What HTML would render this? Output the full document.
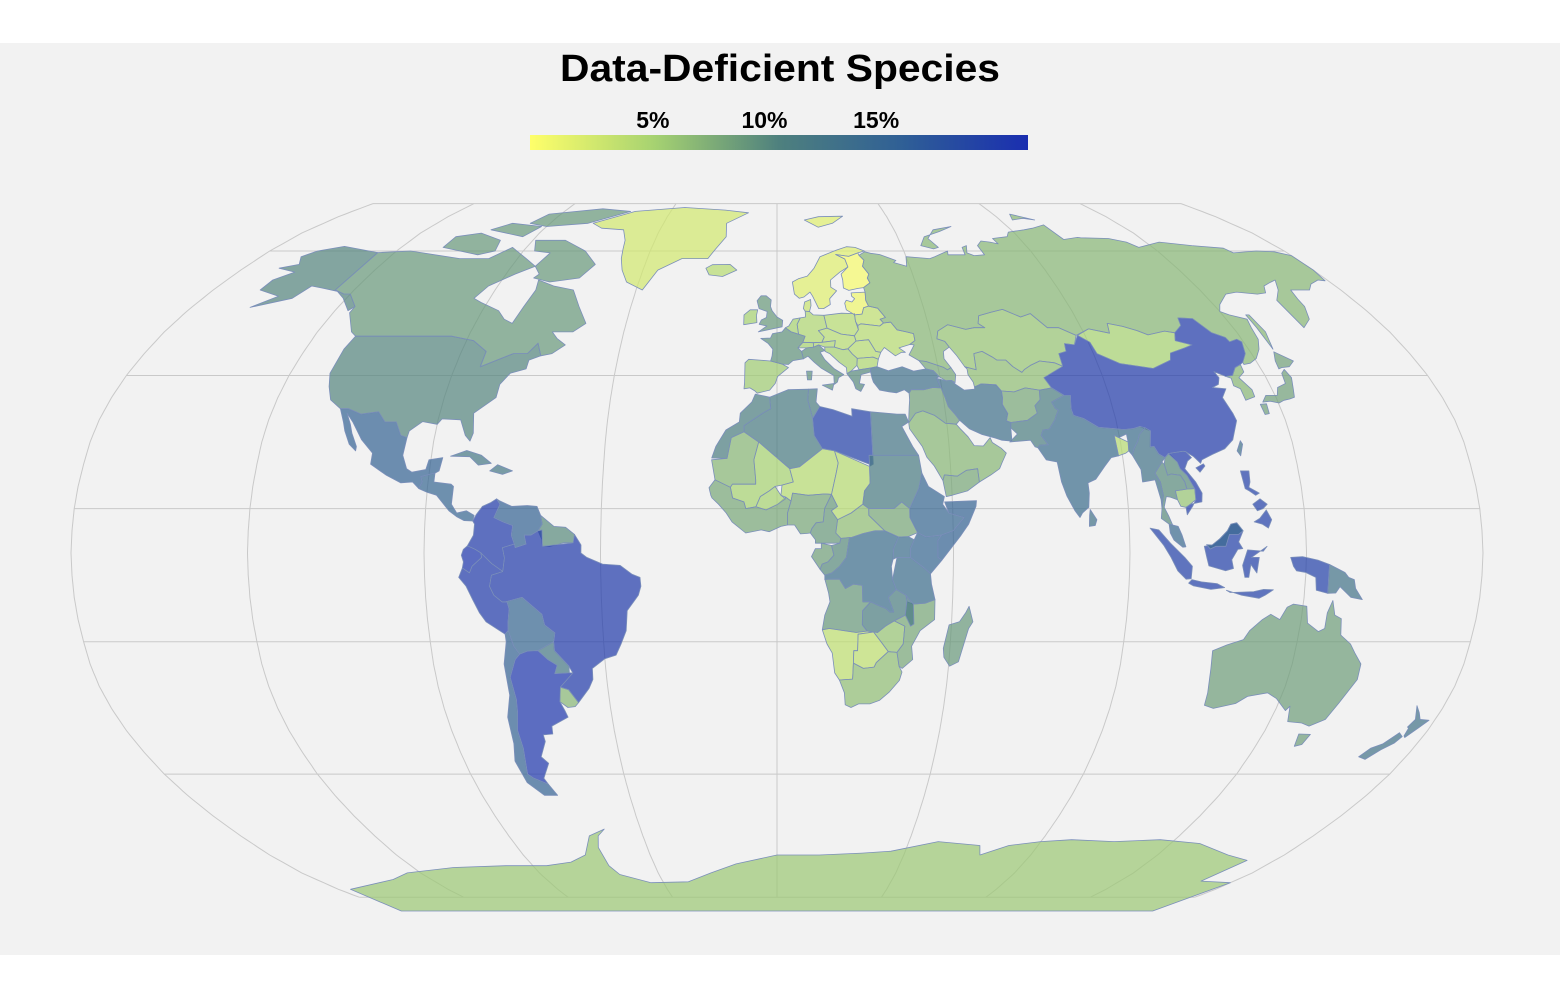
<!DOCTYPE html>
<html><head><meta charset="utf-8"><style>
html,body{margin:0;padding:0;background:#fff;}
svg{display:block;font-family:"Liberation Sans",sans-serif;}
</style></head><body>
<svg id="chart" width="1560" height="1000" viewBox="0 0 1560 1000" xmlns="http://www.w3.org/2000/svg">
<rect x="0" y="0" width="1560" height="1000" fill="#ffffff"/>
<rect x="0" y="43" width="1560" height="912" fill="#f2f2f2"/>
<text x="780" y="81" text-anchor="middle" font-size="38" font-weight="bold" textLength="440" lengthAdjust="spacingAndGlyphs" fill="#000">Data-Deficient Species</text>
<defs>
<linearGradient id="legGrad" x1="0" x2="1" y1="0" y2="0">
<stop offset="0" stop-color="#ffff6a"/><stop offset="0.25" stop-color="#a6d271"/><stop offset="0.5" stop-color="#4e807e"/><stop offset="0.75" stop-color="#2f5f96"/><stop offset="1" stop-color="#1a2eb0"/>
</linearGradient>
</defs>
<rect x="530" y="135" width="498" height="15" fill="url(#legGrad)"/>
<g id="legendTicks"></g>
<g id="graticule"></g>
<g id="countries"></g>
</svg>
<script>
// ---- data ----
const regionNames = ["Canada","Canada Baffin","Canada Arctic 1","Canada Arctic 2","Canada Arctic 3","USA","Alaska","Mexico","Central America","Cuba","Hispaniola","Greenland","Iceland",
"Colombia","Venezuela","Guianas","Ecuador","Peru","Brazil","Bolivia","Paraguay","Uruguay","Argentina","Chile",
"Morocco","Algeria","Tunisia","Libya","Egypt","Mauritania","Mali","Niger","Chad","Sudan","South Sudan","Ethiopia","Somalia","Kenya","Tanzania","Uganda","DR Congo","Congo","Gabon","Cameroon","CAR","Nigeria","West Africa","Burkina Faso","Angola","Zambia","Namibia","Botswana","Zimbabwe","Mozambique","Malawi","South Africa","Madagascar",
"Spain","France","Italy","Sicily","Sardinia","UK","Ireland","Germany","Benelux","Denmark","Poland","Central Europe","Switzerland","Austria","Romania","Balkans","Bulgaria","Greece","Scandinavia","Finland","Baltics","Belarus","Ukraine","Russia","Novaya Zemlya","Severnaya Zemlya","Svalbard","Sakhalin",
"Kazakhstan","Central Asia","Mongolia","China","Hainan","Taiwan","Korea","Japan Honshu","Japan Kyushu","Japan Hokkaido","India","Bangladesh","Sri Lanka","Pakistan","Afghanistan","Iran","Turkey","Caucasus","Iraq Syria","Saudi Arabia","Yemen",
"Myanmar","Thailand","Laos","Vietnam","Cambodia","Malaysia","Sumatra","Java","Borneo Indonesia","Borneo Malaysia","Sulawesi","West Papua","Papua New Guinea","Lesser Sunda","Luzon","Mindanao","Visayas",
"Australia","Tasmania","NZ North","NZ South","Antarctica"];
const regionValues = [9,9,9,9,9,10.3,10.3,15.5,15,12,12,2.3,4,
20.5,15.5,10,21,20.5,20.5,15,12,7,21,15.5,
11,11.5,11,20,12.5,7,5,4,4,11.5,8,15,15.5,15,14,14,14,10,8.5,9,6.5,8,8,5,9,11,3.5,3.5,6,8,12,6.5,9,
5.5,9.5,9.5,9.5,9.5,9,5,4.5,5,3,4,4,5,4.5,4,5,4.5,10,1.5,0,0.5,3.5,4,7,7,7,1.5,7,
6,6.5,5,20.5,20.5,13,7,8.5,8.5,8.5,14,4,13,11,8,13.5,13.5,8,8.5,7,8,
13,10,10,20.5,6,14.5,20,20,20,14.5,20,20,13,20,20,20,20,
8.7,8.7,13,13,5.8];
const tickValues = [5,10,15];
const tickLabels = ["5%","10%","15%"];
const colorDomain = [-0.5,21.8];

const shapes = {
"Canada":[[-141,60],[-141,69.6],[-130,70],[-120,69],[-110,68],[-100,68],[-95,71],[-87,68],[-82,66],[-87,64],[-93,61],[-95,58],[-92,57],[-85,55],[-82,53],[-79,52],[-78,56],[-77,60],[-78,62.5],[-72,61],[-65,60],[-61,56],[-57,52],[-60,50],[-66,50],[-64,48.5],[-61,47],[-64,45],[-67,44.5],[-69,47.4],[-71,45],[-75,45],[-79,43.5],[-83,42],[-83,45.5],[-88,48],[-95,49],[-123,49],[-125,50],[-130,54.5],[-130,56],[-135,59],[-137,59]],
"Canada Baffin":[[-80,63],[-74,62],[-65,63],[-62,66.5],[-68,70],[-78,73],[-89,73],[-86,70],[-80,69.5],[-82,66],[-79,64]],
"Canada Arctic 1":[[-120,71],[-105,69],[-100,70],[-102,73],[-112,75],[-120,74]],
"Canada Arctic 2":[[-90,77],[-75,78],[-62,82],[-75,83],[-95,81],[-98,78]],
"Canada Arctic 3":[[-110,76],[-95,74],[-92,77],[-105,78]],
"USA":[[-123,49],[-95,49],[-88,48],[-83,45.5],[-83,42],[-79,43.5],[-75,45],[-71,45],[-69,47.4],[-67,44.5],[-70,43.5],[-70,41.5],[-74,40.5],[-76,38],[-76,35],[-81,31.5],[-80,27],[-80.5,25.2],[-82,26.5],[-84,30],[-89,30.2],[-90,29],[-94,29.6],[-97,27.5],[-97.2,26],[-99,26.5],[-101,29.5],[-104,29.5],[-106.5,31.8],[-111,31.3],[-114.8,32.5],[-117,32.5],[-120.5,34.5],[-122.5,37.5],[-124,40.5],[-124,46]],
"Alaska":[[-141,60],[-141,69.6],[-156,71.3],[-163,70],[-166,68.5],[-163,66.5],[-168,65.5],[-161,64.5],[-165,62.5],[-165,60],[-157,58.5],[-162,55.8],[-152,58],[-150,61],[-146,60.5],[-140,59.7],[-136,58],[-131,55],[-130,56],[-135,59],[-137,59]],
"Mexico":[[-117,32.5],[-114.8,32.5],[-111,31.3],[-106.5,31.8],[-104,29.5],[-101,29.5],[-99,26.5],[-97.2,26],[-97.5,22],[-96,19],[-94.5,18.2],[-91,18.8],[-90.5,21],[-87,21.5],[-87.5,18.5],[-88.5,18],[-92,17.2],[-91.5,16],[-92.2,14.5],[-94,16],[-97,15.8],[-101,17.5],[-105.5,20],[-105.5,22.5],[-109,25.5],[-112.5,29.5],[-114.8,31.5],[-113,29],[-112,27],[-110,24],[-110,23],[-112,24.5],[-114,27.5],[-115,29.5]],
"Central America":[[-92.2,14.5],[-91.5,16],[-92,17.2],[-88.5,18],[-88.5,16],[-84,15.5],[-83.3,15],[-83.5,11],[-82,9],[-79.5,9.5],[-77.5,8.5],[-77.8,7.2],[-80,7.3],[-82,8.2],[-84,9.5],[-86,11.5],[-87.5,13],[-90,13.7]],
"Cuba":[[-85,21.8],[-81,23.1],[-77,22],[-74.2,20.2],[-77.5,19.8],[-80,21.7]],
"Hispaniola":[[-74.4,18.5],[-72.5,19.9],[-68.5,18.5],[-71,17.7]],
"Greenland":[[-73,78],[-60,82],[-40,83.5],[-22,82.5],[-12,81.5],[-20,78],[-19,74],[-22,70.5],[-24,68],[-33,68],[-40,65],[-43,60],[-49,62],[-52,65],[-54,68],[-55,70.5],[-56,73],[-59,76],[-68,76.5]],
"Iceland":[[-24,65.5],[-22,66.4],[-16,66.5],[-13.5,65],[-18,63.4],[-22.5,63.8]],
"Colombia":[[-77.8,7.2],[-77,8.6],[-75.5,10.5],[-73.5,11.3],[-72,12.2],[-71,11],[-72.4,8],[-70,7],[-67.5,6.2],[-67.8,4],[-67,2],[-70,1.2],[-69.5,-1.1],[-70,-4.2],[-72.8,-2.4],[-75.5,0],[-77,0.8],[-79,1.6],[-77.5,4],[-77.3,6.5]],
"Venezuela":[[-72,12.2],[-71.3,11.8],[-68,10.5],[-64,10.7],[-61.5,10.5],[-60.5,8.5],[-60,6.5],[-61,5],[-62.8,4],[-64.5,4],[-64,2],[-66.8,1.2],[-67,2],[-67.8,4],[-67.5,6.2],[-70,7],[-72.4,8],[-71,11]],
"Guianas":[[-60.5,8.5],[-57,6],[-54,5.8],[-51.7,4.2],[-52,2.3],[-54.5,2.3],[-56,1.9],[-58,1.5],[-59.8,1.5],[-60,3],[-61,5],[-60,6.5]],
"Ecuador":[[-79,1.6],[-77,0.8],[-75.5,0],[-75.3,-1],[-77.8,-3],[-78.5,-4.5],[-80.3,-3.4],[-80,-2],[-80.5,-0.5],[-80,0.8]],
"Peru":[[-80.3,-3.4],[-78.5,-4.5],[-77.8,-3],[-75.3,-1],[-75.5,0],[-72.8,-2.4],[-70,-4.2],[-72.9,-5],[-73.5,-7.5],[-72.5,-9.5],[-70.5,-11],[-69.2,-11],[-68.8,-12.6],[-69.3,-15.5],[-69.5,-17.5],[-70.4,-18.3],[-75,-15.5],[-76.5,-13.5],[-78,-10.5],[-79.5,-7.5],[-81.3,-5.5]],
"Brazil":[[-60,5.2],[-59.8,1.5],[-56,1.9],[-52,2.3],[-51.7,4.2],[-50,1.8],[-50,0],[-48.5,-1],[-44.5,-2.5],[-40,-2.8],[-37,-4.8],[-35,-5.5],[-34.8,-7.5],[-35.5,-9.5],[-38.5,-13],[-39,-17.5],[-40.5,-20.5],[-42,-23],[-45,-23.8],[-48.5,-26],[-48.7,-28.5],[-50,-30.5],[-53.4,-33.7],[-55.5,-30.8],[-57.6,-30.2],[-53.8,-27],[-54.6,-25.5],[-58,-22],[-58,-20],[-57.5,-18],[-60,-16.2],[-60.5,-13.8],[-65.3,-10],[-69.5,-11],[-70.5,-11],[-72.5,-9.5],[-73.5,-7.5],[-72.9,-5],[-70,-4.2],[-69.5,-1.1],[-70,1.2],[-67,2],[-66.8,1.2],[-64,2],[-64.5,4],[-62.8,4],[-61,5]],
"Bolivia":[[-69.5,-11],[-65.3,-10],[-60.5,-13.8],[-60,-16.2],[-57.5,-18],[-58,-20],[-62.3,-22],[-65,-22.1],[-67.2,-22.8],[-68.5,-21],[-69.5,-17.5],[-69.3,-15.5],[-68.8,-12.6],[-69.2,-11]],
"Paraguay":[[-58,-20],[-58,-22],[-54.6,-25.5],[-54.7,-27],[-58.6,-27.2],[-57.7,-25.3],[-60,-24],[-62.3,-22]],
"Uruguay":[[-53.4,-33.7],[-55.5,-30.8],[-57.6,-30.2],[-58.4,-33.5],[-56.5,-34.8],[-54.5,-34.6]],
"Argentina":[[-65,-22.1],[-62.3,-22],[-60,-24],[-57.7,-25.3],[-58.6,-27.2],[-54.7,-27],[-53.8,-27],[-57.6,-30.2],[-58.4,-33.5],[-57.5,-35.5],[-57,-37],[-62,-39],[-62.3,-40.8],[-65,-41],[-65,-42.5],[-67.5,-46],[-66,-47.5],[-69,-51],[-68.4,-52.4],[-72,-51],[-73.3,-50],[-71.8,-44],[-71.8,-40],[-70.5,-36],[-70,-33],[-70.5,-28],[-68.5,-24],[-67.2,-22.8]],
"Chile":[[-70.4,-18.3],[-69.5,-17.5],[-68.5,-21],[-67.2,-22.8],[-68.5,-24],[-70.5,-28],[-70,-33],[-70.5,-36],[-71.8,-40],[-71.8,-44],[-73.3,-50],[-72,-51],[-68.4,-52.4],[-67,-55],[-71,-55],[-74.5,-52],[-75.5,-47],[-74,-43],[-73.5,-37],[-71.5,-32],[-71.5,-25],[-70.3,-20]],
"Morocco":[[-5.9,35.8],[-2,35.1],[-1.7,32.5],[-3.6,31.6],[-8.7,28.7],[-8.7,27.3],[-12,26],[-13,21.3],[-17,21.4],[-16,24],[-13.5,27.7],[-10,29.5],[-9.8,31.5],[-6.8,34]],
"Algeria":[[-2,35.1],[3,36.8],[8.6,36.9],[8.3,34.5],[9.5,30.3],[9.8,26.5],[11.9,23.5],[5.8,19.4],[3.3,19],[-4.8,25],[-8.7,27.3],[-8.7,28.7],[-3.6,31.6],[-1.7,32.5]],
"Tunisia":[[8.6,36.9],[11,37],[10.5,34],[11.5,33],[9.5,30.3],[8.3,34.5]],
"Libya":[[11.5,33],[15,32.3],[20,30.8],[20,32.5],[25,31.8],[25,20],[24,19.5],[24,20],[15,23],[11.9,23.5],[9.8,26.5],[9.5,30.3]],
"Egypt":[[25,31.8],[32,31.3],[34.2,31.3],[34.9,29.5],[33,28.5],[35.5,24],[36.9,22],[25,22]],
"Mauritania":[[-17,21],[-16,16.5],[-12,14.8],[-11.5,15.5],[-5.5,15.5],[-5.5,16.5],[-6,21],[-4.8,25],[-8.7,27.3],[-12,26],[-13,21.3]],
"Mali":[[-12,14.8],[-11.5,15.5],[-5.5,15.5],[-5.5,16.5],[-6,21],[-4.8,25],[3.3,19],[4.2,16],[1.3,15.3],[-0.5,15],[-2,14],[-4.3,12.7],[-5.4,10.4],[-8,10],[-8.5,11.5],[-11.4,12.4]],
"Niger":[[3.3,19],[5.8,19.4],[11.9,23.5],[15,23],[15.9,20.3],[15.3,17.9],[14,13.2],[13,13.3],[12,13.3],[8,13],[4,13.5],[3.6,11.7],[2.2,12.6],[1,13],[1.3,15.3],[4.2,16]],
"Chad":[[15,23],[24,19.5],[24,15.7],[22.5,14],[22,11],[19,9],[15.5,7.5],[13.9,9.5],[15.5,10.5],[14,13.2],[15.3,17.9],[15.9,20.3]],
"Sudan":[[24,20],[24,22],[36.9,22],[37.5,18],[36.5,14.5],[34,10],[32,11.5],[30,10],[26,10],[23.5,10],[22,11],[22.5,14],[24,15.7]],
"South Sudan":[[23.5,10],[26,10],[30,10],[32,11.5],[34,10],[34,8],[35.9,4.6],[33.5,3.7],[31,3.6],[27.5,5],[23.5,8.5]],
"Ethiopia":[[36.5,14.5],[37.5,18],[39,15],[43,12.7],[42.5,11],[44,9],[47.9,8],[45,5],[41.9,4],[38,3.6],[35.9,4.6],[34,8],[34,10]],
"Somalia":[[43,11.5],[51.2,11.8],[51,10.5],[49,6.5],[47,4],[42,-1.7],[41,-1],[41,2.8],[41.9,4],[45,5],[47.9,8],[44,9]],
"Kenya":[[41.9,4],[41,2.8],[41,-1],[42,-1.7],[39.2,-4.7],[37.7,-3.5],[34,-1],[34,1],[35,3],[35.9,4.6],[38,3.6]],
"Tanzania":[[34,-1],[37.7,-3.5],[39.2,-4.7],[39.5,-7],[40.5,-10.5],[38,-11.3],[35,-11.5],[33,-9.5],[30.5,-8.2],[29.5,-6],[30.6,-1]],
"Uganda":[[30.6,-1],[34,-1],[34,1],[35,3],[33.5,3.7],[31,3.6],[29.7,1],[29.6,-1.4]],
"DR Congo":[[12.2,-6],[13,-5.9],[16,-5.9],[17.5,-8],[19.5,-7],[21.8,-7.3],[22,-11],[24,-11],[26,-11.8],[28,-12.5],[29,-13.3],[30,-13.3],[28.5,-10],[30.5,-8.2],[29.5,-6],[29.2,-3],[29.6,-1.4],[29.7,1],[31,3.6],[27.5,5],[25,5],[22,4.4],[19,3.5],[18.5,3.5],[17.7,-1],[16,-3],[14,-4.5],[12.2,-5]],
"Congo":[[11,-3.7],[12.2,-5],[14,-4.5],[16,-3],[17.7,-1],[18.5,3.5],[16.3,3.3],[16,2.2],[13.9,1.7],[14.5,-0.5],[13,-2],[11.5,-2.5]],
"Gabon":[[8.8,-0.8],[9.8,1],[11.3,1],[11.3,2.2],[13.9,1.7],[14.5,-0.5],[13,-2],[11.5,-2.5],[11,-3.7]],
"Cameroon":[[8.5,4.5],[9.8,3],[9.8,2.2],[11.3,2.2],[16,2.2],[16.3,3.3],[15,4.5],[15.5,7.5],[13.9,9.5],[15.5,10.5],[14,13.2],[12.2,10],[11.8,7],[10,6.8],[8.9,5.5]],
"CAR":[[15.5,7.5],[19,9],[22,11],[23.5,10],[23.5,8.5],[27.5,5],[25,5],[22,4.4],[19,3.5],[18.5,3.5],[16.3,3.3],[15,4.5]],
"Nigeria":[[2.7,6.3],[4.5,6.3],[6,4.3],[7.5,4.4],[8.5,4.5],[8.9,5.5],[10,6.8],[11.8,7],[12.2,10],[14,13.2],[12,13.3],[8,13],[4,13.5],[3.6,11.7],[2.7,9]],
"West Africa":[[-17.5,14.7],[-17,13],[-16.7,12.4],[-15,11],[-13,9],[-11.5,7],[-8,4.5],[-4,5.2],[-2,4.8],[1,6],[2.7,6.3],[2.7,9],[3.6,11.7],[2.2,12.6],[0.2,11],[-2.8,9.7],[-5.4,10.4],[-8,10],[-8.5,11.5],[-11.4,12.4],[-12,14.8],[-16,16.5]],
"Burkina Faso":[[-5.4,10.4],[-2.8,9.7],[0.2,11],[2.2,12.2],[1,13],[-0.5,15],[-2,14],[-4.3,12.7]],
"Angola":[[12.2,-6],[13,-5.9],[16,-5.9],[17.5,-8],[19.5,-7],[21.8,-7.3],[22,-11],[24,-11],[22,-13],[22,-16.2],[23.3,-17.6],[20.5,-17.9],[13.5,-17],[11.7,-17.3],[12.3,-14],[13.6,-11],[13.2,-9],[12.3,-6.1]],
"Zambia":[[22,-13],[24,-11],[26,-11.8],[28,-12.5],[29,-13.3],[30,-13.3],[28.5,-10],[30.5,-8.2],[33,-9.5],[33.3,-11],[33,-14],[30.2,-15.3],[28,-16.5],[26,-17.9],[23.3,-17.6],[22,-16.2]],
"Namibia":[[11.7,-17.3],[13.5,-17],[20.5,-17.9],[23.3,-17.6],[25,-17.8],[21,-18.3],[21,-22],[20,-22],[20,-24.8],[20,-28.4],[16.5,-28.6],[15.2,-27],[14.4,-22.5],[13,-20.5]],
"Botswana":[[21,-18.3],[25,-17.8],[27,-20],[29,-22.2],[26,-24.7],[25.5,-25.7],[22.7,-26],[20,-24.8],[20,-22],[21,-22]],
"Zimbabwe":[[25,-17.8],[26,-17.9],[28,-16.5],[30.2,-15.3],[33,-16.5],[32.8,-20.5],[31.3,-22.4],[29,-22.2],[27,-20]],
"Mozambique":[[33,-14],[33.3,-11],[35,-11.5],[38,-11.3],[40.5,-10.5],[40.6,-15],[37,-17.5],[35,-21],[35.5,-24],[32.9,-26],[32,-25.5],[31.3,-22.4],[32.8,-20.5],[33,-16.5],[30.2,-15.3]],
"Malawi":[[33.3,-11],[33,-9.5],[35,-11.5],[35.3,-16],[34.5,-16.5],[33,-14]],
"South Africa":[[16.5,-28.6],[20,-28.4],[20,-24.8],[22.7,-26],[25.5,-25.7],[26,-24.7],[29,-22.2],[31.3,-22.4],[32,-25.5],[32.9,-26.8],[32.4,-28.7],[30,-31.3],[27.5,-33.2],[25,-34],[22,-34],[20,-34.8],[18.4,-34.2],[18,-31.5]],
"Madagascar":[[49.3,-12],[50.5,-15.5],[49.5,-17],[47.5,-24.5],[45.3,-25.5],[43.6,-23.5],[43.3,-21.5],[44.4,-16.2],[47,-15.5],[48.5,-13.5]],
"Spain":[[-9,42.9],[-8.9,38.5],[-9,37],[-7.4,37.2],[-6,36.5],[-5.4,36],[-2,36.7],[-0.5,38.2],[0.2,39.8],[3.2,41.8],[1.5,42.6],[-1.8,43.3],[-8,43.7]],
"France":[[-1.8,43.3],[1.5,42.6],[3.2,42.5],[4.5,43.4],[7.5,43.8],[7,45.5],[6,46.3],[7.5,47.6],[8.2,49],[6.3,49.5],[4.2,50],[2.5,51],[1.5,50],[-1.3,49.6],[-1.9,48.6],[-4.7,48.5],[-2.5,47.3],[-1.2,46],[-1.4,44.5]],
"Italy":[[7,45.5],[7.5,43.8],[8.8,44.4],[10.5,43],[12.3,41.7],[15.7,40],[15.7,38],[16.6,38.5],[17,39.5],[18.5,40.2],[16,41.5],[13.5,43.6],[12.3,45.3],[13.7,45.7],[12,47],[10.5,46.5],[8.5,46.3]],
"Sicily":[[12.4,37.8],[15.6,38.2],[15.1,36.7]],
"Sardinia":[[8.2,41],[9.8,41],[9.5,39],[8.4,39]],
"UK":[[-5.5,50],[1.5,51.2],[1.7,52.7],[0,53.5],[-1.5,55],[-2,56],[-1.8,57.6],[-3.4,58.6],[-5,58.6],[-6.2,57.4],[-5.5,55.5],[-3,54.8],[-3.2,53.4],[-4.7,52.8],[-5.3,51.8],[-3,51.4]],
"Ireland":[[-6,52.2],[-6.2,53.9],[-5.9,55.2],[-8.2,55.2],[-10,54],[-9.9,51.7]],
"Germany":[[6.3,49.5],[8.2,49],[7.5,47.6],[10.5,47.5],[13,47.6],[13.8,48.8],[12.2,50.3],[14.8,50.9],[14.2,53.9],[11,54],[9.9,54.8],[8.6,54.9],[8.6,53.5],[7,53.3],[6,51.8]],
"Benelux":[[2.5,51],[4.2,50],[6.3,49.5],[6,51.8],[7,53.3],[4.8,53],[3.5,51.4]],
"Denmark":[[8.1,55.5],[8.6,57.1],[10.5,57.7],[10.5,56.2],[9.9,54.8],[8.6,54.9]],
"Poland":[[14.2,53.9],[14.8,50.9],[18.8,49.5],[22.6,49.1],[24,50.5],[23.5,52.5],[23.5,54.3],[19.6,54.4]],
"Central Europe":[[13,47.6],[16.9,48],[16.5,46.5],[18.9,45.9],[20.3,46.1],[22.9,47.9],[22.6,49.1],[18.8,49.5],[14.8,50.9],[12.2,50.3],[13.8,48.8]],
"Switzerland":[[6,46.3],[8.5,46.3],[10.5,46.5],[10.5,47.5],[7.5,47.6]],
"Austria":[[10.5,46.5],[12,47],[13.7,46.5],[16.5,46.5],[16.9,48],[13,47.6],[10.5,47.5]],
"Romania":[[22.9,47.9],[26.6,48.2],[28.2,45.5],[29.6,45.3],[28.6,43.7],[27.2,44.2],[22.7,43.9],[21.4,44.9],[20.3,46.1]],
"Balkans":[[13.7,45.5],[13.7,46.5],[16.5,46.5],[18.9,45.9],[20.3,46.1],[21.4,44.9],[22.7,43.9],[22.4,42.3],[20.6,41],[19.4,40.4],[19.4,41.8],[17.5,43],[15,45]],
"Bulgaria":[[22.7,43.9],[27.2,44.2],[28.6,43.7],[28,42],[26.1,41.7],[22.9,41.3],[22.4,42.3]],
"Greece":[[20.6,41],[22.9,41.3],[26.1,41.7],[26,40.8],[23.3,40.2],[22.6,38.2],[24,38],[22.8,36.4],[21.5,37],[21,38.5],[19.4,40.4]],
"Scandinavia":[[5,62],[5.5,59],[7,58],[8.5,58.3],[10.5,59.5],[11.2,58.5],[12.8,55.5],[14.3,55.5],[16.5,56.5],[16.5,57.9],[19,59.8],[17.3,60.7],[17.5,62.5],[21,64.5],[24,65.8],[23.5,67.9],[20.6,69.1],[25,68.6],[28.5,69.5],[31,70],[28,71],[25,71.2],[21,70.2],[15,68.5],[12.5,65.5],[10,63.5],[7,62.8]],
"Finland":[[21.3,60.5],[22.9,59.9],[26,60.4],[27.8,60.6],[30.2,61.8],[29.7,63],[30.5,64],[29,66],[30,67.6],[28.7,68.9],[28.5,69.5],[25,68.6],[20.6,69.1],[23.5,67.9],[24,65.8],[21.3,64],[21.5,62.5]],
"Baltics":[[21,56.8],[21.6,57.5],[23.3,57.1],[24.3,57.9],[23.5,58.5],[23.5,59.3],[28,59.5],[27.7,57.5],[28.2,56.1],[26.6,55.7],[25.8,54.2],[23.5,54],[22.8,54.4],[21.2,55.2]],
"Belarus":[[23.5,54.3],[23.5,52.5],[24,51.5],[25,51.9],[30.5,51.4],[31.8,52.1],[31,53],[32.7,53.4],[30.9,55.6],[28.2,56.1],[26.6,55.7],[25.8,54.2],[23.5,54]],
"Ukraine":[[22.6,49.1],[22.9,47.9],[26.6,48.2],[28.2,45.5],[29.6,45.3],[30.8,46.4],[33.6,44.5],[35.5,45.3],[36.6,45.3],[35,46.3],[38.3,47.1],[40,48],[40,49.6],[38,50],[35.4,50.5],[34,52.3],[31.8,52.1],[30.5,51.4],[25,51.9],[24,51.5],[24,50.5]],
"Russia":[[28,59.5],[27.7,57.5],[28.2,56.1],[30.9,55.6],[32.7,53.4],[31,53],[31.8,52.1],[34,52.3],[35.4,50.5],[38,50],[40,49.6],[40,48],[38.3,47.1],[39.5,47],[37.5,44.7],[40,43.4],[42,43.2],[46.5,41.9],[47.5,41.3],[48.6,41.8],[47.2,43.8],[47.5,45.5],[49.5,46.5],[48.6,47.8],[46.5,48.4],[47.3,50.2],[50.8,51.7],[55.7,50.6],[58.3,51],[61.5,51],[60,52],[61,53.8],[65,54.6],[69,55.3],[73.5,53.5],[76.9,54.3],[80,51],[83.4,51],[87.4,49.2],[92,50.7],[97.5,49.7],[98.5,52],[102.5,51.3],[106,50.3],[108.5,49.3],[114,50.2],[116.7,49.8],[120,51.5],[120.8,53.3],[125,53.1],[127.5,49.8],[130.6,48.7],[131,47.7],[133.6,48.3],[134.5,47.7],[133.2,45],[131,43],[131,42.5],[133,42.8],[135.5,43.9],[138,46],[139.8,48.3],[140.4,51],[141.3,53],[137,54],[135,54.8],[137,56.5],[142,59],[146,59.5],[152,59],[155,59.3],[157,61],[160,61.8],[163,62.5],[160,60],[156,57.5],[156,51],[160,53],[162.5,56],[163,57.8],[164,60],[170,60],[173,61.5],[177,62.5],[179,62.3],[180,65],[180,68.8],[176,69.8],[170,70],[161,69.5],[160,70.8],[150,71.5],[140,72.5],[130,71],[128,72.5],[123,73.5],[113,73.7],[112,73.8],[106,73.2],[105,77.5],[99,76.5],[95,76],[88,75.3],[86,74],[80,73.5],[80.5,72],[78,72.5],[75,72.8],[72.5,71.5],[72.8,69],[69,68.8],[67,69.5],[68.5,71.5],[66.5,71],[66,69],[60,69],[60.5,70],[55,68.5],[53,68],[45,68.5],[44,66],[40,67],[41,67.5],[36,69.1],[33,69.4],[31,69.8],[28.7,68.9],[30,67.6],[29,66],[30.5,64],[29.7,63],[30.2,61.8],[27.8,60.6]],
"Novaya Zemlya":[[52,71.5],[56,70.6],[58,71],[56,73.5],[60,76],[68,77],[62,75.5],[55,74]],
"Severnaya Zemlya":[[95,79],[100,79.5],[104,79],[97,81]],
"Svalbard":[[11,79],[17,80],[27,80.2],[22,78],[16,76.8]],
"Sakhalin":[[142,46],[143.5,50],[143,54],[142,54],[142,51]],
"Kazakhstan":[[46.5,48.4],[48.6,47.8],[49.5,46.5],[51,44.5],[52.5,42],[55.5,41.3],[56,45],[58.5,45.5],[61,44.2],[62,43.5],[64.5,43.5],[66,42],[68,40.7],[69,41.4],[71,42.3],[74,43.3],[78,42.9],[80,42.1],[80.2,45],[82.5,45.5],[83,47.3],[85.7,47],[87.4,49.2],[83.4,51],[80,51],[76.9,54.3],[73.5,53.5],[69,55.3],[65,54.6],[61,53.8],[60,52],[61.5,51],[58.3,51],[55.7,50.6],[50.8,51.7],[47.3,50.2]],
"Central Asia":[[52.5,42],[55.5,41.3],[56,45],[58.5,45.5],[61,44.2],[62,43.5],[64.5,43.5],[66,42],[68,40.7],[69,41.4],[71,42.3],[74,43.3],[78,42.9],[80,42.1],[73.7,39.5],[75,37.2],[71.5,36.7],[67.8,37.2],[64.5,36.3],[61.1,36.5],[60,37.9],[56,38.1],[54,37.4],[53.9,38.5],[52.9,40.2],[53,41.5]],
"Mongolia":[[87.8,49.2],[92,50.7],[97.5,49.7],[98.5,52],[102.5,51.3],[106,50.3],[108.5,49.3],[114,50.2],[116.7,49.8],[115.5,48],[119.6,47],[117,46.3],[112,45.1],[111,43.5],[105,41.6],[96.4,42.7],[91,45],[90.5,47.6]],
"China":[[73.7,39.5],[80,42.1],[80.2,45],[82.5,45.5],[83,47.3],[85.7,47],[87.8,49.2],[90.5,47.6],[91,45],[96.4,42.7],[105,41.6],[111,43.5],[112,45.1],[117,46.3],[119.6,47],[115.5,48],[116.7,49.8],[120,51.5],[120.8,53.3],[125,53.1],[127.5,49.8],[130.6,48.7],[131,47.7],[133.6,48.3],[134.5,47.7],[133.2,45],[131,43],[130,42.5],[128,41.8],[126,40],[124,39.8],[121.5,40.9],[122,39.5],[121,38],[119,37.3],[122.5,37],[120.5,35],[121.7,31.5],[122,29.8],[119.6,25.5],[117,23.5],[113.5,22.2],[110.5,21],[110,20.2],[108.5,21.7],[106.7,22.8],[106,22.9],[102,22.4],[101,21.5],[99.5,22.3],[98.6,24],[97.6,23.9],[98.5,27.5],[96,28.5],[94,28],[91.6,27.8],[89,28],[85,28.3],[81.5,30.3],[79,31],[78.8,32.5],[79.5,35.5],[77.8,35.5],[75,37.2]],
"Hainan":[[108.6,19.2],[110.7,20.1],[111,19.6],[109.5,18.2]],
"Taiwan":[[120.1,23],[121.5,25.3],[121.9,24.5],[120.8,21.9]],
"Korea":[[124,39.8],[126,40],[128,41.8],[130,42.5],[129.7,40.8],[127.5,39.5],[129.5,36.8],[129.3,35.2],[126.5,34.4],[126.5,37],[125,37.7],[125.3,39.4]],
"Japan Honshu":[[130.9,34],[132.5,35.5],[135.6,35.5],[136.8,37.3],[139.5,38.2],[140,40.5],[141.4,41.4],[142,39.5],[140.8,36.8],[140,35.1],[138.5,34.7],[136.8,34.4],[135.2,33.8],[133,34.2]],
"Japan Kyushu":[[130,33.5],[131.7,33.6],[131.4,31.4],[130.2,31.2]],
"Japan Hokkaido":[[140,41.5],[140.4,43.3],[141.7,45.4],[145.5,43.3],[143.3,42],[141,41.8]],
"India":[[68.2,23.7],[70,21],[72.8,20.5],[73.4,16],[74.5,12.8],[76.3,9.5],[77.5,8],[78.2,9],[79.9,10.3],[80.3,13.5],[80.2,15.8],[82.3,16.6],[85,19.5],[87,21.5],[89,21.9],[88.7,26.5],[89.8,26],[92,26.8],[92,25],[91.8,23],[92.6,22],[93.3,23.5],[94.6,25.2],[95.4,26.7],[97.3,28.2],[96,28.5],[94,28],[91.6,27.8],[89,28],[85,28.3],[81.5,30.3],[79,31],[78.8,32.5],[79.5,35.5],[77.8,35.5],[75.5,34.6],[74,34],[74.6,32.6],[75.3,32.2],[74.5,31.1],[73.8,30],[71.9,27.9],[70.2,27.7],[69.5,26.5],[71,24.4],[68.8,24.3]],
"Bangladesh":[[88.7,26.5],[89,21.9],[91,22.5],[91.8,23],[92,25],[89.8,26]],
"Sri Lanka":[[79.8,6],[80,8.5],[80.2,9.8],[81.8,7.5],[81.3,6.2]],
"Pakistan":[[61,25],[66.5,25.4],[67.5,23.9],[68.2,23.7],[68.8,24.3],[71,24.4],[69.5,26.5],[70.2,27.7],[71.9,27.9],[73.8,30],[74.5,31.1],[75.3,32.2],[74.6,32.6],[74,34],[75.5,34.6],[77.8,35.5],[75,37.2],[71.5,36.7],[71,34.5],[69.3,33.2],[69.5,31.5],[66.5,29.9],[62,29.4],[61.8,28.2],[63.3,26.8]],
"Afghanistan":[[61.1,36.5],[64.5,36.3],[67.8,37.2],[71.5,36.7],[71,34.5],[69.3,33.2],[69.5,31.5],[66.5,29.9],[62,29.4],[60.9,29.8],[61.6,31.4],[60.6,33.5],[61,35]],
"Iran":[[44,39.4],[44.8,37.2],[45.5,35],[46,33],[47.7,31],[48.5,29.9],[50.8,28],[54,26.7],[57.3,25.9],[59,25.4],[61.6,25.2],[61.8,28.2],[62,29.4],[60.9,29.8],[61.6,31.4],[60.6,33.5],[61,35],[61.1,36.5],[60,37.9],[56,38.1],[54,37.4],[53.9,36.9],[51,36.7],[49,38],[48,38.9],[46.5,38.8]],
"Turkey":[[26,40.8],[26.1,41.7],[28,42],[31,41.1],[35,42],[38,41],[41.5,41.5],[43.5,41.1],[44.8,39.7],[44,39.4],[44.8,37.2],[42.5,37.3],[40,36.8],[36.6,36.8],[35.9,36],[34.7,36.8],[32.5,36.1],[30.5,36.3],[28,36.7],[26.5,38.5],[26.2,39.5]],
"Caucasus":[[40,43.4],[42,43.2],[46.5,41.9],[47.5,41.3],[48.6,41.8],[49.5,40.2],[48.9,38.4],[48,38.9],[46.5,38.8],[44.8,39.7],[43.5,41.1],[41.5,41.5]],
"Iraq Syria":[[35.9,36],[36.6,36.8],[40,36.8],[42.5,37.3],[44.8,37.2],[45.5,35],[46,33],[47.7,31],[48.5,29.9],[47.5,29],[46.5,29.1],[44.7,29.2],[42,31],[39,32],[37,31.5],[35,29.4],[34.9,29.5],[35.5,33],[35.8,34.5]],
"Saudi Arabia":[[34.9,29.5],[35,29.4],[37,31.5],[39,32],[42,31],[44.7,29.2],[46.5,29.1],[47.5,29],[48.4,28],[50.2,26.2],[51.6,24.2],[54,24.1],[56,26],[56.4,24.9],[58.6,23.6],[59.8,22.5],[58.5,20.4],[57.7,19],[55.3,17.6],[52.2,16],[52,19],[49,18.6],[46.6,17.3],[43.3,17.6],[42.8,16.3],[40.8,19.6],[39,21.6],[38,24],[36.5,26],[35,28]],
"Yemen":[[42.8,16.3],[43.3,17.6],[46.6,17.3],[49,18.6],[52,19],[52.2,16],[49,14],[45,13],[43.5,12.7]],
"Myanmar":[[92.6,22],[94.3,18.8],[94.3,16],[97.6,16.5],[98.6,12],[98.6,10],[99.3,13],[98.9,16],[97.8,18],[100,20.5],[101,21.5],[99.5,22.3],[98.6,24],[97.6,23.9],[98.5,27.5],[97.3,28.2],[95.4,26.7],[94.6,25.2],[93.3,23.5]],
"Thailand":[[97.8,18],[98.9,16],[99.3,13],[98.6,10],[98.3,7.8],[100.2,6.5],[101.1,6.3],[100.2,8.4],[99.2,10.3],[100,12.7],[101,12.6],[102.8,12],[102.5,14],[105.5,14.4],[105.2,16],[104.3,17.5],[102,17.8],[101,17.5],[100.5,20],[100,20.5]],
"Laos":[[100.5,20],[101,17.5],[102,17.8],[104.3,17.5],[105.2,16],[105.5,14.4],[107.5,14.5],[106,17.5],[104.5,19],[104,20.5],[102.2,22.4],[101,21.5]],
"Vietnam":[[102,22.4],[104,20.5],[104.5,19],[106,17.5],[107.5,14.5],[107.5,12],[106.5,10.5],[105,8.6],[104.8,10.3],[106,11],[109,11.5],[109.3,13.5],[108,16],[105.7,19],[106.7,20.7],[107.9,21.5],[106.7,22.8],[106,22.9]],
"Cambodia":[[102.5,14],[102.8,12],[103.5,10.5],[104.8,10.3],[106,11],[107.5,12],[107.5,14.5],[105.5,14.4]],
"Malaysia":[[100.2,6.5],[101.1,6.3],[102.5,6],[103.4,4],[104.3,1.4],[103.5,1.3],[101.3,2.9],[100.4,4.5]],
"Sumatra":[[95.3,5.6],[97.5,5.2],[100.4,2.2],[104,-1],[106,-3],[105.8,-5.8],[104.5,-5.9],[102.3,-4],[100.5,-1],[98.7,1.7]],
"Java":[[105.2,-6.8],[106,-6],[108.5,-6.5],[112.5,-6.9],[114.5,-7.8],[111,-8.2],[106.5,-7.4]],
"Borneo Indonesia":[[109,1.5],[109.6,-1],[110.2,-2.9],[114.5,-4],[116.5,-3.5],[116,-1.5],[117.5,0.8],[118.8,1],[117.8,2.5],[119,5],[117.5,6.8],[116,6.5],[115,5],[113,3.2],[111,1.8]],
"Borneo Malaysia":[[109.6,1.9],[111,1.8],[113,3.2],[115,5],[116,6.5],[117.5,6.8],[119,5],[117.8,4.2],[115.5,4.2],[114.5,1.5],[112,1.5],[110.5,0.9]],
"Sulawesi":[[119.5,-5.5],[120.5,-5.5],[120.9,-2.6],[122.5,-4.5],[123,-1],[121,-1],[125,1.5],[124,0.4],[120,0.7],[118.8,-2.8]],
"West Papua":[[131,-1],[134,-0.8],[138,-1.6],[141,-2.6],[141,-9.1],[138,-8.4],[137.6,-5.5],[135,-4.4],[132.6,-4],[131.8,-3]],
"Papua New Guinea":[[141,-2.6],[145,-4.4],[146,-5.5],[147.5,-6],[148,-8],[150,-10.5],[147,-10],[144,-7.6],[143,-9],[141,-9.1]],
"Lesser Sunda":[[115,-8.4],[116,-8.9],[119,-8.8],[122,-8.7],[124.5,-8.2],[127,-8.3],[125,-9.5],[123.5,-10.2],[119,-9.5]],
"Luzon":[[120,18.5],[122.2,18.5],[122,16],[121.5,14.8],[124,13.5],[123,13],[121.5,14],[120.5,14.5],[120.3,16]],
"Mindanao":[[122,7],[123.5,7.8],[125.3,9.7],[126.5,7.5],[125.5,5.6],[124,6.5]],
"Visayas":[[122,11],[124,12.2],[125.7,11],[124.5,10],[123,9.5]],
"Australia":[[113.5,-22],[114,-26],[115,-31.5],[115.3,-34.3],[118,-35],[123.5,-33.9],[126,-32.3],[131,-31.5],[134,-32.8],[137.8,-35.5],[138.5,-34.5],[140,-38],[144,-38.3],[146.5,-39],[150,-37.5],[151.3,-33.8],[153.5,-28.5],[153,-25],[150.7,-22.5],[149,-20.5],[146,-18.5],[145.3,-14.8],[143.5,-14],[142.5,-10.7],[141.5,-13.5],[141.5,-17],[140,-17.7],[136.8,-15.8],[136,-12],[132.5,-11.5],[131,-12.2],[129.5,-15],[127,-13.8],[125,-15],[122.2,-17.5],[121,-19.5],[117,-20.7]],
"Tasmania":[[145,-40.8],[148.3,-40.9],[147.8,-43.2],[146,-43.6]],
"NZ North":[[172.7,-34.4],[174.5,-36],[175.9,-37.5],[178.5,-37.7],[177,-39.4],[175.2,-41.6],[174.6,-41.2],[174.3,-39.5],[173.8,-39.2],[174.6,-37.5]],
"NZ South":[[172.7,-40.5],[174.3,-41.4],[173.5,-42.9],[171.2,-44.4],[169,-46.6],[166.5,-46],[168,-44],[170.5,-43]],
"Antarctica":[[-175,-80],[-150,-77],[-140,-75],[-120,-73.5],[-100,-73],[-85,-73],[-75,-72],[-68,-70],[-63,-65],[-57,-63.3],[-60,-65],[-62,-68],[-62,-73],[-60,-75.5],[-50,-78],[-35,-77.7],[-25,-75],[-15,-72.5],[0,-70],[15,-70],[30,-69.5],[40,-69],[55,-66.5],[70,-67.5],[72,-70],[80,-67.5],[90,-66.5],[100,-66],[115,-66.5],[130,-66],[145,-67],[160,-70],[170,-71.5],[167,-77.5],[180,-78],[180,-90],[-180,-90]]
};

// ---- Robinson projection ----
const robX=[1,0.9986,0.9954,0.99,0.9822,0.973,0.96,0.9427,0.9216,0.8962,0.8679,0.835,0.7986,0.7597,0.7186,0.6732,0.6213,0.5722,0.5322];
const robY=[0,0.062,0.124,0.186,0.248,0.31,0.372,0.434,0.4958,0.5571,0.6176,0.6769,0.7346,0.7903,0.8435,0.8936,0.9394,0.9761,1];
const CX=777, CY=553, HW=706, HH=358;
function interp(t,a){const v=Math.min(Math.abs(a),90)/5;const i=Math.min(Math.floor(v),17);const f=v-i;return t[i]+(t[i+1]-t[i])*f;}
function proj(lon,lat){
  const x=CX+HW*interp(robX,lat)*lon/180;
  const y=CY-Math.sign(lat)*HH*interp(robY,lat);
  return [x,y];
}
// ---- color scale ----
const stops=[[0,[255,255,106]],[0.25,[166,210,113]],[0.5,[78,128,126]],[0.75,[47,95,150]],[1,[26,46,176]]];
function colorFor(v){
  let t=(v-colorDomain[0])/(colorDomain[1]-colorDomain[0]);t=Math.max(0,Math.min(1,t));
  for(let i=0;i<stops.length-1;i++){
    if(t<=stops[i+1][0]){const f=(t-stops[i][0])/(stops[i+1][0]-stops[i][0]);
      const c=stops[i][1].map((c0,k)=>Math.round(c0+(stops[i+1][1][k]-c0)*f));return 'rgb('+c.join(',')+')';}
  }
  return 'rgb(26,46,176)';
}
const NS='http://www.w3.org/2000/svg';
// legend ticks
const legG=document.getElementById('legendTicks');
tickValues.forEach((v,i)=>{
  const x=530+(v-colorDomain[0])/(colorDomain[1]-colorDomain[0])*498;
  const t=document.createElementNS(NS,'text');
  t.setAttribute('x',x);t.setAttribute('y',128);t.setAttribute('text-anchor','middle');
  t.setAttribute('font-size','23');t.setAttribute('font-weight','bold');
  t.textContent=tickLabels[i];
  
  
  legG.appendChild(t);
});
// graticule
const gG=document.getElementById('graticule');
function addLine(pts,name){
  const p=document.createElementNS(NS,'path');
  p.setAttribute('d','M'+pts.map(q=>q[0].toFixed(1)+','+q[1].toFixed(1)).join('L'));
  p.setAttribute('fill','none');p.setAttribute('stroke','#c9c9c9');p.setAttribute('stroke-width','1');
  
  
  gG.appendChild(p);
}
const gratLats=[70,40,10,-20,-50,85,-83];
gratLats.forEach(la=>{const pts=[];for(let lo=-180;lo<=180;lo+=5)pts.push(proj(lo,la));addLine(pts,'graticule-parallel');});
for(let lo=-180;lo<=180;lo+=45){const pts=[];for(let la=-83;la<=85;la+=1)pts.push(proj(lo,la));addLine(pts,'graticule-meridian');}
// countries
const cG=document.getElementById('countries');
regionNames.forEach((n,i)=>{
  const poly=shapes[n];if(!poly)return;
  const p=document.createElementNS(NS,'path');
  p.setAttribute('d','M'+poly.map(q=>{const r=proj(q[0],q[1]);return r[0].toFixed(1)+','+r[1].toFixed(1);}).join('L')+'Z');
  p.setAttribute('fill',colorFor(regionValues[i]));p.setAttribute('fill-opacity','0.7');
  p.setAttribute('stroke','#7b8fba');p.setAttribute('stroke-width','0.8');p.setAttribute('stroke-linejoin','round');
  
  
  cG.appendChild(p);
});
</script>
</body></html>
